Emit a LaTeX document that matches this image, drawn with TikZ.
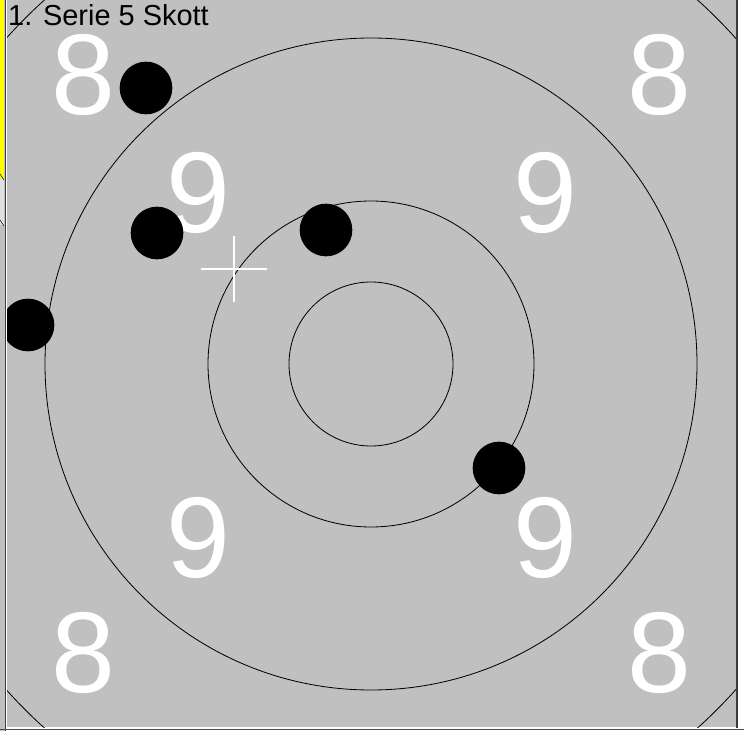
\documentclass[tikz,border=0pt]{standalone}
\usepackage{fontspec}
\setmainfont{Liberation Sans}
\usetikzlibrary{positioning}
\definecolor{TargetGray}{HTML}{C0C0C0}
\definecolor{FrameDark}{HTML}{3C3C3C}
\definecolor{PanelYellow}{HTML}{FFFF00}
\tikzset{
    % Target styles
    ring/.style={
        draw=black,
        line width=0.7pt
    },
    scorelabel/.style={
        text=white,
        inner sep=0pt,
        font=\fontsize{98}{98}\selectfont
    },
    shot/.style={
        circle,
        fill=black,
        inner sep=0pt,
        minimum size=1.58cm
    },
    aimcross/.style={
        draw=white,
        line width=1.6pt
    },
    frameline/.style={
        draw=FrameDark,
        line width=1.5pt
    }
}
\begin{document}
\begin{tikzpicture}[x=0.03cm, y=-0.03cm]
    \useasboundingbox (0,0) rectangle (744,731);
    \fill[white] (0,0) rectangle (744,731);

    % Neighbouring panel
    \fill[TargetGray] (0,0) rectangle (5,731);
    \fill[PanelYellow] (0,0) rectangle (4,177);
    \fill[gray!25] (0,177) rectangle (4,225);
    \draw[black,thin] (0,174) -- (4,180);
    \draw[black,thin] (0,220) -- (4,226);

    % Target field
    \begin{scope}
        \clip (7,0) rectangle (736,727);
        \fill[TargetGray] (7,0) rectangle (736,727);
        \coordinate (centre) at (371,364);
        \foreach \r in {82,163,326,489}
            \draw[ring] (centre) circle[radius=\r];

        % Ring values
        \node[scorelabel] (eightNW) at (83,75) {8};
        \node[scorelabel] (eightNE) at (659,75) {8};
        \node[scorelabel] (eightSW) at (83,653) {8};
        \node[scorelabel] (eightSE) at (659,653) {8};
        \node[scorelabel] (nineNW) at (198,193) {9};
        \node[scorelabel] (nineNE) at (545,193) {9};
        \node[scorelabel] (nineSW) at (198,538) {9};
        \node[scorelabel] (nineSE) at (545,538) {9};

        % Hits
        \node[shot] (shot1) at (146,88) {};
        \node[shot] (shot2) at (157,233) {};
        \node[shot] (shot3) at (326,230) {};
        \node[shot] (shot4) at (28,325) {};
        \node[shot] (shot5) at (499,468) {};

        % Mean point of impact
        \coordinate (mpi) at (234,269);
        \draw[aimcross] ([xshift=-1cm]mpi) -- ([xshift=1cm]mpi);
        \draw[aimcross] ([yshift=-1cm]mpi) -- ([yshift=1cm]mpi);

        \node[anchor=base west, inner sep=0pt, font=\fontsize{24.7}{24.7}\selectfont] (title) at (8,26) {1. Serie 5 Skott};
    \end{scope}

    % Frame
    \draw[frameline] (5.5,0) -- (5.5,731);
    \draw[frameline] (736.8,0) -- (736.8,728);
    \draw[draw=gray!60!black, line width=0.8pt] (0,729.7) -- (744,729.7);
\end{tikzpicture}
\end{document}
